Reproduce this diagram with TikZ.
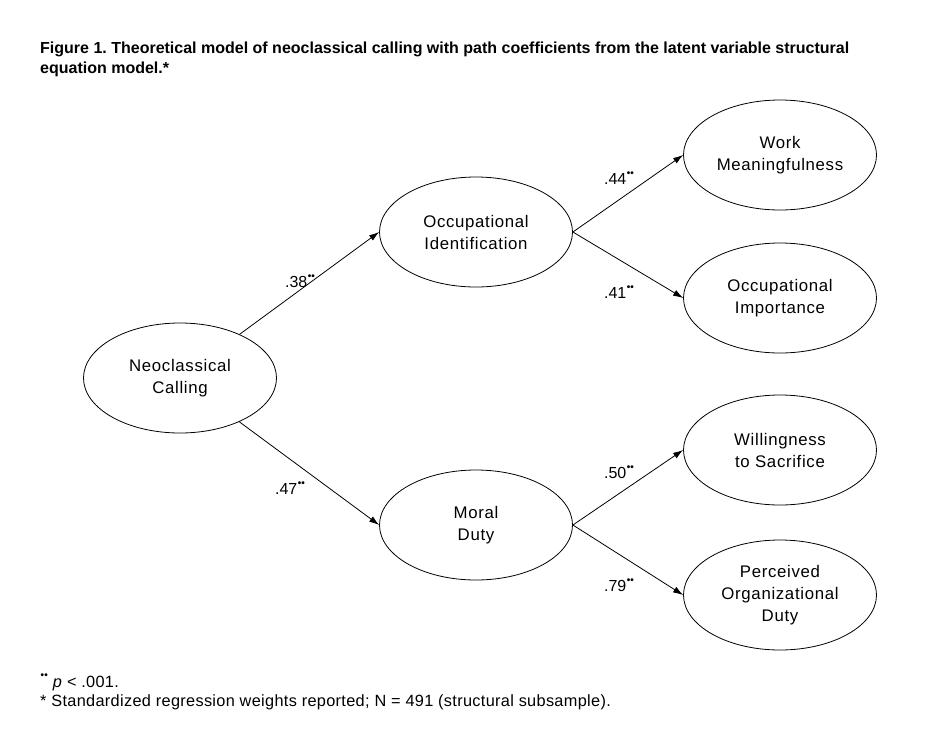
\documentclass[tikz,border=0pt]{standalone}
\usepackage{fontspec}
\setmainfont{Liberation Sans}
\usepackage{tikz}
\usetikzlibrary{shapes.geometric, arrows.meta, positioning}
\newfontfamily\diagfont[LetterSpace=4]{Liberation Sans}
\newfontfamily\notefont[LetterSpace=2]{Liberation Sans}
\newcommand{\sig}{\raisebox{0.5em}{\kern0.5pt\fontsize{10}{10}\selectfont\bfseries ••}}
\frenchspacing

\begin{document}
\begin{tikzpicture}[
    x=1pt, y=-1pt,
    latent/.style={ellipse, draw, thick, minimum width=193pt, minimum height=110pt, inner sep=0pt, align=center, font=\diagfont\fontsize{16.8}{22}\selectfont},
    coef/.style={font=\fontsize{16}{18}\selectfont, inner sep=0pt},
    arrow/.style={-{Latex[length=10pt,width=6.5pt]}, thick},
    caption/.style={anchor=base west, inner sep=0pt, font=\bfseries\fontsize{16}{20}\selectfont},
    note/.style={anchor=base west, inner sep=0pt, font=\notefont\fontsize{16.3}{18}\selectfont}
]
    \useasboundingbox (0,0) rectangle (939,753);

    \node[caption] (title1) at (40,53) {Figure 1. Theoretical model of neoclassical calling with path coefficients from the latent variable structural};
    \node[caption] (title2) at (40,73) {equation model.*};

    \node[latent] (nc) at (180,378) {Neoclassical\\Calling};
    \node[latent] (oi) at (476,232) {Occupational\\Identification};
    \node[latent] (md) at (476,525) {Moral\\Duty};
    \node[latent] (wm) at (780,155) {Work\\Meaningfulness};
    \node[latent] (op) at (780,298) {Occupational\\Importance};
    \node[latent] (ws) at (780,450) {Willingness\\to Sacrifice};
    \node[latent] (po) at (780,595) {Perceived\\Organizational\\Duty};

    \draw[arrow] (nc) -- (oi.west);
    \draw[arrow] (nc) -- (md.west);
    \draw[arrow] (oi.east) -- (wm.west);
    \draw[arrow] (oi.east) -- (op.west);
    \draw[arrow] (md.east) -- (ws.west);
    \draw[arrow] (md.east) -- (po.west);

    \node[coef] (c1) at (300,281) {.38\sig};
    \node[coef] (c2) at (290,488) {.47\sig};
    \node[coef] (c3) at (619,178) {.44\sig};
    \node[coef] (c4) at (619,292) {.41\sig};
    \node[coef] (c5) at (619,472) {.50\sig};
    \node[coef] (c6) at (619,585) {.79\sig};

    \node[note] (note1) at (40,687) {\sig\ \textit{p} < .001.};
    \node[note] (note2) at (40,706) {* Standardized regression weights reported; N = 491 (structural subsample).};
\end{tikzpicture}
\end{document}
